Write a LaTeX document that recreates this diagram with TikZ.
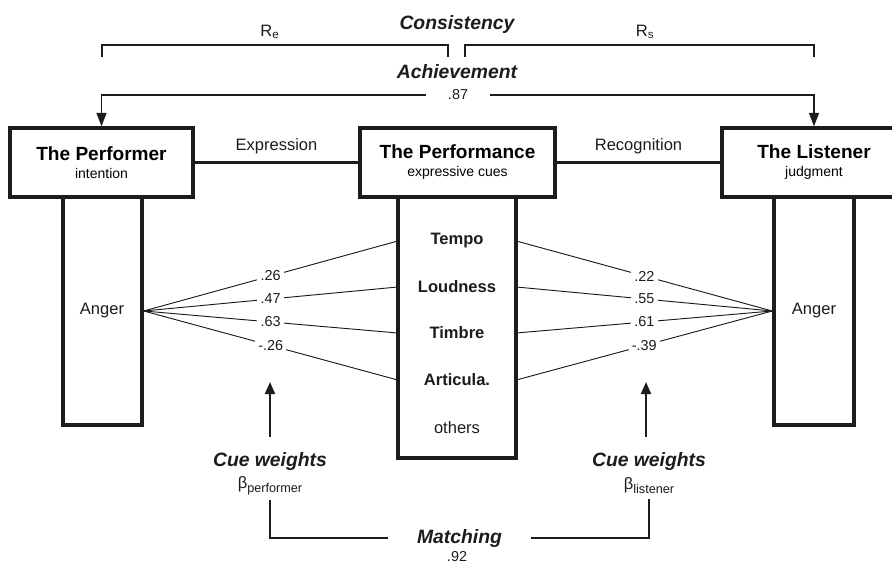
\documentclass[tikz,border=0pt]{standalone}
\usepackage{fontspec}
\setmainfont{Liberation Sans}
\usepackage{xcolor}
\usetikzlibrary{arrows.meta,positioning,calc}
\definecolor{lensink}{RGB}{28,28,28}
\tikzset{
    headbox/.style={rectangle, draw=lensink, line width=2.6pt, fill=white, align=center, minimum height=51.75pt, inner sep=0pt, font=\fontsize{14.3}{13.5}\selectfont},
    column/.style={rectangle, draw=lensink, line width=2.6pt, fill=white},
    cue/.style={font=\fontsize{12.4}{14}\selectfont\bfseries, minimum width=88.5pt, inner sep=0pt, text=lensink},
    plain/.style={font=\fontsize{12.4}{14}\selectfont, text=lensink},
    weight/.style={fill=white, inner sep=2.5pt, font=\fontsize{10.8}{12}\selectfont, text=lensink},
    heading/.style={font=\fontsize{14.5}{16}\selectfont\bfseries\itshape, text=lensink},
    link/.style={draw=lensink, line width=1.6pt},
    fan/.style={draw=lensink, line width=0.7pt},
    bracket/.style={draw=lensink, line width=1.1pt},
    arrowline/.style={draw=lensink, line width=1.1pt, -{Triangle[length=10pt,width=7.5pt]}},
    uparrow/.style={draw=lensink, line width=1.4pt, -{Triangle[length=9pt,width=7.5pt]}}
}

\begin{document}
\begin{tikzpicture}[x=0.75pt,y=-0.75pt]
    \useasboundingbox (0,0) rectangle (892,566);
    \clip (0,0) rectangle (892,566);

    % Columns below the three boxes
    \node [column, minimum width=59.25pt, minimum height=171pt] (perfcol) at (102.5,311) {};
    \node [column, minimum width=88.5pt, minimum height=195.75pt] (cuecol) at (457,327.5) {};
    \node [column, minimum width=60pt, minimum height=171pt] (liscol) at (814,311) {};

    % Lens model boxes
    \node [headbox, minimum width=137.25pt] (performer) at (101.5,162.5) {\bfseries The Performer\\{\fontsize{10.5}{13.5}\selectfont intention}};
    \node [headbox, minimum width=146.25pt] (performance) at (457.5,162.5) {\bfseries The Performance\\{\fontsize{10.5}{13.5}\selectfont expressive cues}};
    \node [headbox, minimum width=138pt] (listener) at (814,162.5) {\bfseries The Listener\\{\fontsize{10.5}{13.5}\selectfont judgment}};

    \path [link] (performer) -- node [plain, above=2pt] {Expression} (performance);
    \path [link] (performance) -- node [plain, above=2pt] {Recognition} (listener);

    % Column contents
    \node [plain] (angerL) at (102,311) {Anger};
    \node [plain] (angerR) at (814,311) {Anger};
    \node [cue] (tempo) at (457,241) {Tempo};
    \node [cue] (loudness) at (457,287) {Loudness};
    \node [cue] (timbre) at (457,333) {Timbre};
    \node [cue] (articula) at (457,380) {Articula.};
    \node [cue, font=\fontsize{12.4}{14}\selectfont] (others) at (457,428) {others};

    % Performer side weights
    \path [fan] (perfcol.east) -- node [weight] {.26} (tempo.west);
    \path [fan] (perfcol.east) -- node [weight] {.47} (loudness.west);
    \path [fan] (perfcol.east) -- node [weight] {.63} (timbre.west);
    \path [fan] (perfcol.east) -- node [weight] {-.26} (articula.west);

    % Listener side weights
    \path [fan] (tempo.east) -- node [weight] {.22} (liscol.west);
    \path [fan] (loudness.east) -- node [weight] {.55} (liscol.west);
    \path [fan] (timbre.east) -- node [weight] {.61} (liscol.west);
    \path [fan] (articula.east) -- node [weight] {-.39} (liscol.west);

    % Consistency and achievement
    \node [heading] (consistency) at (457,25) {Consistency};
    \node [plain] (re) at (270,32) {R\textsubscript{e}};
    \node [plain] (rs) at (645,32) {R\textsubscript{s}};
    \coordinate (reL) at (102,57);
    \coordinate (reR) at (448,57);
    \coordinate (rsL) at (465,57);
    \coordinate (rsR) at (814,57);
    \path [bracket] (reL) -- ++(0,-12) -| (reR);
    \path [bracket] (rsL) -- ++(0,-12) -| (rsR);

    \node [heading] (achievement) at (457,72) {Achievement};
    \node [weight, fill=none, minimum width=48pt] (ach) at (458,95) {.87};
    \path [arrowline] (ach.west) -| (performer.north);
    \path [arrowline] (ach.east) -| (listener.north);

    % Cue weights and matching
    \node [heading] (cweightL) at (270,461) {Cue weights};
    \node [plain] (betaL) at (270,486) {β\raisebox{-3pt}{\fontsize{9.5}{10}\selectfont performer}};
    \node [heading] (cweightR) at (649,461) {Cue weights};
    \node [plain] (betaR) at (649,486) {β\raisebox{-3pt}{\fontsize{9.5}{10}\selectfont listener}};
    \coordinate (tipL) at (270,382);
    \coordinate (tipR) at (646,382);
    \path [uparrow] ([yshift=8pt]cweightL.north) -- (tipL);
    \path [uparrow] ([yshift=8pt]tipR |- cweightR.north) -- (tipR);

    \node [heading, minimum width=107pt] (matching) at (459.5,538) {Matching};
    \node [weight, fill=none, inner sep=1pt] (match92) at (457,557) {.92};
    \path [bracket] (matching.west) -| (betaL.south);
    \path [bracket] (matching.east) -| (betaR.south);
\end{tikzpicture}
\end{document}
